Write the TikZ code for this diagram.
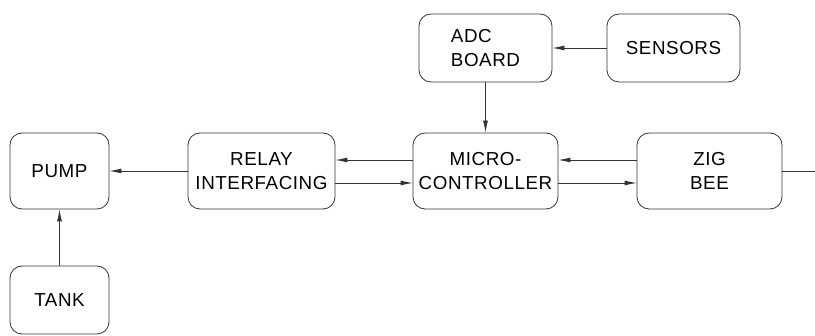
\documentclass[tikz,border=0pt]{standalone}
\usepackage{fontspec}
\setmainfont[LetterSpace=3]{Liberation Sans}
\usetikzlibrary{arrows.meta}
\begin{document}
\begin{tikzpicture}[x=1pt,y=-1pt,
  blk/.style={draw=black!80, line width=0.8pt, rounded corners=12pt,
    align=center, inner sep=0pt, font=\fontsize{18.8}{23.3}\selectfont},
  arr/.style={draw=black!80, line width=0.8pt, -{Latex[length=12pt,width=5pt]}},
  ln/.style={draw=black!80, line width=0.8pt}]
\useasboundingbox (0,0) rectangle (815,336);

% blocks
\node[blk, minimum width=99pt, minimum height=76pt] (pump) at (59.5,171) {PUMP};
\node[blk, minimum width=99pt, minimum height=68pt] (tank) at (59.5,300) {TANK};
\node[blk, minimum width=147pt, minimum height=76pt] (relay) at (261.5,171) {RELAY\\INTERFACING};
\node[blk, minimum width=145pt, minimum height=76pt] (micro) at (485.5,171) {MICRO-\\CONTROLLER};
\node[blk, minimum width=145pt, minimum height=76pt] (zig) at (709.5,171) {ZIG\\BEE};
\node[blk, minimum width=133pt, minimum height=68pt, align=left] (adc) at (485.5,48) {ADC\\BOARD};
\node[blk, minimum width=133pt, minimum height=68pt] (sensors) at (673.5,48) {SENSORS};
\coordinate (out) at (815,171);

% connectors
\draw[arr] (relay.west) -- (pump.east);
\draw[arr] (tank.north) -- (pump.south);
\draw[arr] ([yshift=11pt]micro.west) -- ([yshift=11pt]relay.east);
\draw[arr] ([yshift=-12pt]relay.east) -- ([yshift=-12pt]micro.west);
\draw[arr] ([yshift=11pt]zig.west) -- ([yshift=11pt]micro.east);
\draw[arr] ([yshift=-12pt]micro.east) -- ([yshift=-12pt]zig.west);
\draw[ln] (zig.east) -- (out);
\draw[arr] (adc.south) -- (micro.north);
\draw[arr] (sensors.west) -- (adc.east);
\end{tikzpicture}
\end{document}
